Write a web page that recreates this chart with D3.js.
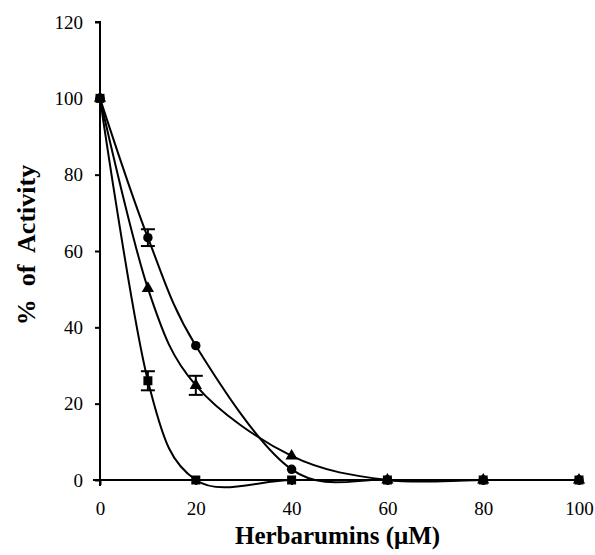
<!DOCTYPE html>
<html>
<head>
<meta charset="utf-8">
<script src="https://cdn.jsdelivr.net/npm/d3@7"></script>
<style>
body { margin: 0; background: #fff; }
</style>
</head>
<body>
<div id="chart"></div>
<script>
// concentrations (uM)
var conc = [0, 10, 20, 40, 60, 80, 100];
var circleVals = [100, 63.5, 35.2, 2.8, 0, 0, 0];
var circleErr = [0, 2.2, 0, 0, 0, 0, 0];
var triVals = [100, 50.2, 24.8, 6.3, 0, 0, 0];
var triErr = [0, 0, 2.5, 0, 0, 0, 0];
var sqVals = [100, 26, 0, 0, 0, 0, 0];
var sqErr = [0, 2.5, 0, 0, 0, 0, 0];
var xTicks = [0, 20, 40, 60, 80, 100];
var yTicks = [0, 20, 40, 60, 80, 100, 120];

var serif = "'Liberation Serif', 'Times New Roman', Times, serif";
var margin = {top: 22, right: 15, bottom: 75, left: 100};

var svg = d3.select("#chart").append("svg")
  .attr("width", 595)
  .attr("height", 555)
  .append("g")
  .attr("transform", "translate(" + margin.left + "," + margin.top + ")");

var x = d3.scaleLinear().domain([0, 100]).range([0, 479]);
var y = d3.scaleLinear().domain([0, 120]).range([458, 0]);

// y axis
var yAxis = svg.append("g")
  .call(d3.axisLeft(y).tickValues(yTicks).tickSize(5).tickPadding(12));
yAxis.select(".domain").attr("stroke-width", 2).attr("d", "M0," + (y(0) + 6) + "V" + y(120) + "H-5");
yAxis.selectAll(".tick line").attr("stroke-width", 2);
yAxis.selectAll(".tick text").style("font-family", serif).style("font-size", "19px");

// x axis
var xAxis = svg.append("g")
  .attr("transform", "translate(0," + y(0) + ")")
  .call(d3.axisBottom(x).tickValues(xTicks).tickSize(5).tickPadding(17));
xAxis.select(".domain").attr("stroke-width", 2).attr("d", "M-7,0H" + x(100));
xAxis.selectAll(".tick line").attr("stroke-width", 2);
xAxis.selectAll(".tick text").style("font-family", serif).style("font-size", "19px");

// labels
svg.append("text")
  .attr("x", x(50) - 2)
  .attr("y", y(0) + 64)
  .attr("text-anchor", "middle")
  .style("font-family", serif)
  .style("font-size", "25px")
  .style("font-weight", "bold")
  .text("Herbarumins (\u03BCM)");

svg.append("text")
  .attr("transform", "translate(-65,223) rotate(-90)")
  .attr("text-anchor", "middle")
  .style("font-family", serif)
  .style("font-size", "26px")
  .style("font-weight", "bold")
  .style("white-space", "pre")
  .text("%  of  Activity");

var line = d3.line()
  .x(function(d) { return x(d[0]); })
  .y(function(d) { return y(d[1]); })
  .curve(d3.curveCardinal.tension(0));

var series = [
  {vals: circleVals, err: circleErr, shape: d3.symbolCircle, size: 70},
  {vals: triVals, err: triErr, shape: d3.symbolTriangle, size: 65},
  {vals: sqVals, err: sqErr, shape: d3.symbolSquare, size: 81}
];

series.forEach(function(s) {
  var pts = conc.map(function(c, i) { return [c, s.vals[i], s.err[i]]; });
  svg.append("path")
    .datum(pts)
    .attr("fill", "none")
    .attr("stroke", "#000")
    .attr("stroke-width", 2)
    .attr("d", line);

  var eb = pts.filter(function(d) { return d[2] > 0; });
  var g = svg.append("g").attr("stroke", "#000").attr("stroke-width", 2);
  g.selectAll(".v").data(eb).enter().append("line")
    .attr("x1", function(d) { return x(d[0]); })
    .attr("x2", function(d) { return x(d[0]); })
    .attr("y1", function(d) { return y(d[1] + d[2]); })
    .attr("y2", function(d) { return y(d[1] - d[2]); });
  g.selectAll(".cap").data(eb.concat(eb)).enter().append("line")
    .attr("x1", function(d) { return x(d[0]) - 7; })
    .attr("x2", function(d) { return x(d[0]) + 7; })
    .attr("y1", function(d, i) { return y(i < eb.length ? d[1] + d[2] : d[1] - d[2]); })
    .attr("y2", function(d, i) { return y(i < eb.length ? d[1] + d[2] : d[1] - d[2]); });

  svg.selectAll(null).data(pts).enter().append("path")
    .attr("d", d3.symbol().type(s.shape).size(s.size))
    .attr("transform", function(d) { return "translate(" + x(d[0]) + "," + y(d[1]) + ")"; })
    .attr("fill", "#000");
});
</script>
</body>
</html>
